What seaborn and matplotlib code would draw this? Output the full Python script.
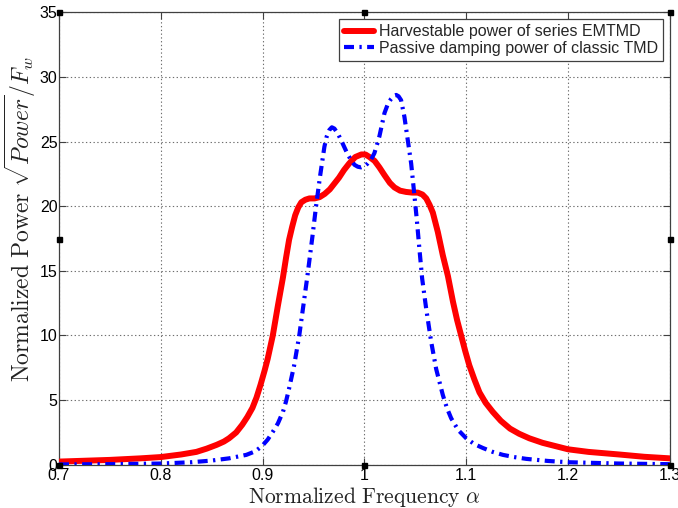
import matplotlib
matplotlib.use("Agg")
import matplotlib.pyplot as plt
import seaborn as sns
import pandas as pd

# Normalized frequency / power samples for the series EMTMD (harvestable power)
alpha_emtmd = [0.700, 0.750, 0.780, 0.800, 0.820, 0.835, 0.845, 0.855, 0.862, 0.867,
               0.874, 0.880, 0.885, 0.890, 0.894, 0.898, 0.902, 0.905, 0.910, 0.915,
               0.920, 0.923, 0.926, 0.929, 0.932, 0.935, 0.938, 0.942, 0.946, 0.951,
               0.956, 0.961, 0.966, 0.970, 0.975, 0.980, 0.985, 0.991, 0.997, 1.001,
               1.005, 1.010, 1.0147, 1.0197, 1.025, 1.0295, 1.035, 1.041, 1.047, 1.0524,
               1.057, 1.0607, 1.064, 1.0672, 1.0721, 1.077, 1.082, 1.087, 1.091, 1.095,
               1.099, 1.103, 1.108, 1.113, 1.119, 1.126, 1.134, 1.143, 1.152, 1.162,
               1.175, 1.190, 1.200, 1.220, 1.250, 1.275, 1.300]
power_emtmd = [0.25, 0.38, 0.50, 0.60, 0.80, 1.00, 1.25, 1.55, 1.80, 2.05,
               2.5, 3.1, 3.7, 4.4, 5.2, 6.2, 7.3, 8.2, 10.0, 12.3,
               14.5, 16.0, 17.4, 18.4, 19.3, 19.9, 20.3, 20.5, 20.6, 20.6,
               20.7, 20.95, 21.3, 21.7, 22.2, 22.8, 23.3, 23.8, 24.0, 24.0,
               23.8, 23.5, 23.0, 22.4, 21.8, 21.45, 21.2, 21.1, 21.05, 21.05,
               20.9, 20.6, 20.1, 19.5, 18.0, 16.2, 14.6, 12.6, 11.2, 10.0,
               8.8, 7.7, 6.6, 5.6, 4.8, 4.1, 3.4, 2.8, 2.4, 2.05,
               1.7, 1.4, 1.2, 1.0, 0.8, 0.62, 0.5]

# Passive damping power of the classic TMD
alpha_tmd = [0.700, 0.750, 0.800, 0.830, 0.850, 0.867, 0.884, 0.893, 0.900, 0.905,
             0.910, 0.915, 0.920, 0.923, 0.926, 0.931, 0.936, 0.940, 0.944, 0.949,
             0.9525, 0.9564, 0.9607, 0.963, 0.9656, 0.968, 0.9705, 0.974, 0.9771, 0.9836,
             0.987, 0.9902, 0.9935, 0.9967, 1.000, 1.0032, 1.0065, 1.0098, 1.0125, 1.0147,
             1.0197, 1.023, 1.0262, 1.029, 1.0312, 1.0335, 1.036, 1.0393, 1.0426, 1.0459,
             1.0485, 1.0514, 1.054, 1.0567, 1.0607, 1.0656, 1.0705, 1.077, 1.081, 1.0852,
             1.092, 1.100, 1.108, 1.1164, 1.126, 1.136, 1.147, 1.159, 1.180, 1.200,
             1.250, 1.300]
power_tmd = [0.03, 0.05, 0.10, 0.20, 0.33, 0.50, 0.77, 1.05, 1.5, 1.95,
             2.55, 3.2, 4.1, 4.9, 5.9, 7.7, 10.0, 12.3, 14.6, 17.7,
             20.0, 22.3, 24.6, 25.4, 25.9, 26.1, 26.0, 25.6, 25.1, 24.0,
             23.55, 23.2, 23.05, 23.0, 23.1, 23.3, 23.6, 24.1, 24.8, 25.4,
             27.2, 27.9, 28.3, 28.55, 28.6, 28.5, 28.2, 26.9, 25.1, 23.3,
             21.3, 19.0, 16.7, 14.4, 12.05, 9.5, 7.4, 5.4, 4.4, 3.6,
             2.7, 2.05, 1.6, 1.3, 1.0, 0.77, 0.6, 0.46, 0.30, 0.20,
             0.10, 0.05]

label_emtmd = "Harvestable power of series EMTMD"
label_tmd = "Passive damping power of classic TMD"
x_ticks = [0.7, 0.8, 0.9, 1.0, 1.1, 1.2, 1.3]
x_tick_labels = ["0.7", "0.8", "0.9", "1", "1.1", "1.2", "1.3"]
y_ticks = [0, 5, 10, 15, 20, 25, 30, 35]

sns.set_theme(style="white")
plt.rcParams["font.family"] = ["Liberation Sans", "DejaVu Sans"]
plt.rcParams["mathtext.fontset"] = "cm"

df_emtmd = pd.DataFrame({"alpha": alpha_emtmd, "power": power_emtmd})
df_tmd = pd.DataFrame({"alpha": alpha_tmd, "power": power_tmd})

fig = plt.figure(figsize=(6.78, 5.08), dpi=100)
ax = fig.add_axes([0.087, 0.085, 0.901, 0.891])

sns.lineplot(data=df_emtmd, x="alpha", y="power", ax=ax, color="#ff0000",
             linewidth=4.3, label=label_emtmd, sort=False, zorder=3)
sns.lineplot(data=df_tmd, x="alpha", y="power", ax=ax, color="#0000ff",
             linewidth=3.0, label=label_tmd, sort=False, zorder=4)
red_line, blue_line = ax.lines[0], ax.lines[1]
red_line.set_solid_joinstyle("round")
blue_line.set_dashes([2.4, 1.3, 0.55, 1.3])
blue_line.set_dash_capstyle("butt")
blue_line.set_dash_joinstyle("round")

ax.set_xlim(0.7, 1.3)
ax.set_ylim(0, 35)
ax.set_xticks(x_ticks)
ax.set_xticklabels(x_tick_labels)
ax.set_yticks(y_ticks)

ax.grid(True, linestyle=(0, (1.2, 2.2)), color="#6e6e6e", linewidth=0.8)
spine_color = "#404040"
for s in ax.spines.values():
    s.set_visible(True)
    s.set_color(spine_color)
    s.set_linewidth(0.9)

ax.tick_params(axis="both", which="both", direction="in", length=5, width=0.8,
               color=spine_color, top=True, right=True, bottom=True, left=True,
               labelsize=11.5, labelcolor="black")
ax.tick_params(axis="x", pad=2)
ax.tick_params(axis="y", pad=1)

ax.set_xlabel(r"$\mathrm{Normalized\ Frequency}\ \alpha$", fontsize=15.5, labelpad=2,
              color="#222222")
ax.set_ylabel(r"$\mathrm{Normalized\ Power}\ \sqrt{Power}/F_w$", fontsize=17,
              color="#222222")
ax.yaxis.set_label_coords(-0.034, 0.543)

leg = ax.legend(loc="upper right", fontsize=11.5, frameon=True, fancybox=False,
                framealpha=1, edgecolor="#404040", borderpad=0.3, labelspacing=0.1,
                handlelength=1.9, handletextpad=0.3, borderaxespad=0.45)
leg.get_frame().set_linewidth(0.9)

# figure-editing handles on the axes box
hx = [0, 0.5, 1, 0, 1, 0, 0.5, 1]
hy = [1, 1, 1, 0.5, 0.5, 0, 0, 0]
ax.plot(hx, hy, linestyle="none", marker="s", markersize=3.6, color="black",
        transform=ax.transAxes, clip_on=False, zorder=10)

fig.savefig("out.png", dpi=100)
